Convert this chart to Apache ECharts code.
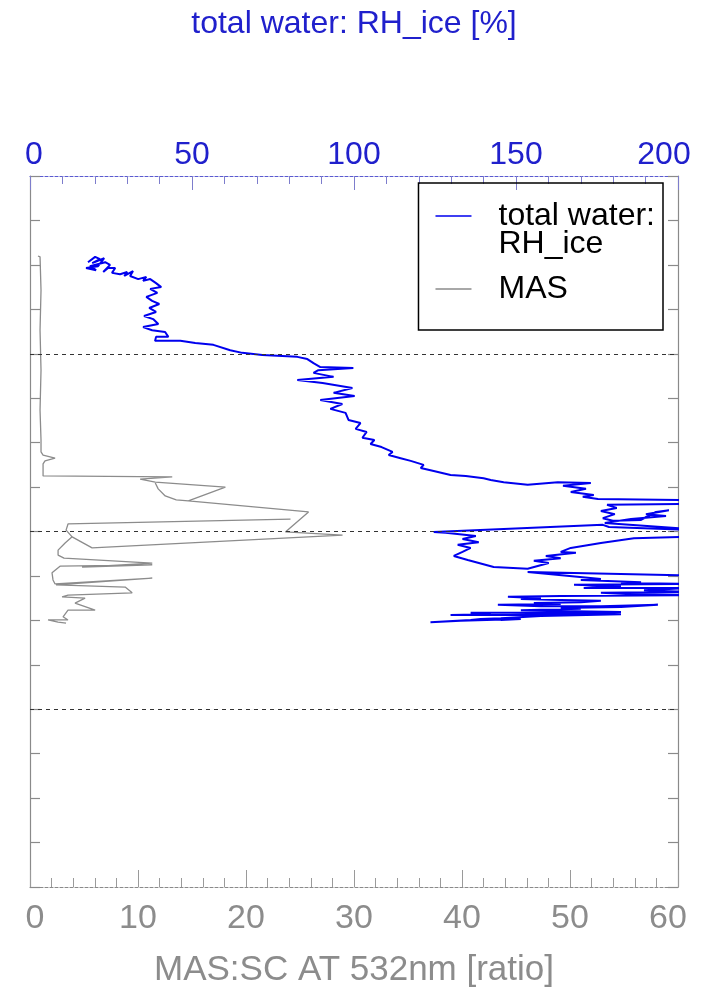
<!DOCTYPE html>
<html>
<head>
<meta charset="utf-8">
<script src="https://cdn.jsdelivr.net/npm/echarts@6/dist/echarts.min.js"></script>
<style>
  html, body { margin: 0; padding: 0; background: #fff; }
  #chart { width: 711px; height: 999px; }
</style>
</head>
<body>
<div id="chart"></div>
<script>
// Vertical profile: altitude (km) against total-water RH over ice (top axis)
// and the MAS backscatter ratio at 532 nm (bottom axis).

// Total water RH_ice [%] along the flight track, and matching altitude [km].
// Values above 200 % run off the right edge and are clipped by the grid.
const rhIce = [
  17.9, 20.1, 21.6, 19.2, 22.9, 21.0, 17.3, 20.4, 18.5, 23.2,
  24.7, 22.6, 24.1, 26.3, 25.3, 27.8, 30.0, 29.1, 31.8, 30.9,
  33.4, 35.9, 34.9, 37.1, 38.9, 40.5, 37.1, 39.3, 35.9, 37.7,
  39.9, 36.8, 38.9, 35.2, 38.0, 39.6, 34.9, 37.7, 41.7, 42.7,
  38.9, 38.6, 46.4, 51.0, 56.6, 61.8, 65.5, 71.7, 82.5, 85.6,
  87.5, 89.6, 99.8, 89.0, 87.5, 93.7, 82.5, 90.3, 99.5, 93.7,
  100.2, 89.6, 96.4, 92.7, 97.4, 98.3, 102.0, 100.5, 103.9, 102.6,
  106.3, 105.1, 108.5, 111.9, 110.7, 114.4, 117.5, 121.5, 120.6, 124.6,
  129.8, 134.5, 140.0, 142.2, 146.2, 153.6, 162.9, 173.1, 164.5, 171.6,
  166.9, 174.0, 170.6, 175.3, 210.0, 210.0, 178.1, 181.1, 176.2, 180.5,
  176.8, 179.9, 188.6, 193.2, 197.2, 190.1, 196.3, 185.5, 177.4, 210.0,
  178.7, 176.8, 124.6, 128.3, 137.6, 133.5, 138.5, 132.0, 136.0, 133.5,
  130.8, 135.1, 143.1, 153.6, 160.1, 155.5, 163.8, 159.2, 168.5, 163.8,
  166.9, 176.2, 186.4, 215.0, 215.0, 153.6, 176.2, 170.0, 188.6, 182.4,
  205.0, 167.9, 182.4, 176.2, 170.9, 205.0, 189.5, 194.7, 205.0, 176.2,
  185.5, 205.0, 163.8, 147.5, 157.7, 151.5, 163.8, 176.2, 170.0, 155.5,
  163.8, 144.4, 157.7, 176.2, 193.8, 182.4, 163.8, 170.0, 151.5, 163.8,
  182.4, 176.2, 136.0, 142.2, 129.8, 148.4, 163.8, 182.4, 157.7, 145.3,
  139.1, 136.0, 123.6, 132.9, 151.5, 145.3
];
const rhAlt = [
  14.06, 14.18, 14.13, 14.04, 14.15, 13.97, 13.93, 13.88, 13.97, 14.06,
  14.00, 13.84, 13.93, 13.93, 13.82, 13.79, 13.84, 13.75, 13.86, 13.75,
  13.68, 13.73, 13.64, 13.68, 13.59, 13.50, 13.46, 13.37, 13.28, 13.19,
  13.12, 13.03, 12.94, 12.85, 12.78, 12.67, 12.60, 12.53, 12.49, 12.38,
  12.38, 12.29, 12.29, 12.24, 12.20, 12.08, 12.02, 11.97, 11.93, 11.88,
  11.79, 11.70, 11.68, 11.63, 11.57, 11.48, 11.41, 11.34, 11.23, 11.12,
  11.05, 10.96, 10.87, 10.76, 10.67, 10.51, 10.44, 10.31, 10.24, 10.11,
  10.06, 9.97, 9.90, 9.79, 9.72, 9.65, 9.59, 9.50, 9.43, 9.36,
  9.27, 9.25, 9.20, 9.16, 9.11, 9.05, 9.11, 9.09, 9.03, 8.96,
  8.89, 8.82, 8.78, 8.73, 8.70, 8.63, 8.60, 8.53, 8.46, 8.39,
  8.30, 8.24, 8.26, 8.44, 8.48, 8.39, 8.35, 8.28, 8.19, 8.02,
  8.10, 8.15, 7.99, 7.97, 7.90, 7.83, 7.76, 7.70, 7.63, 7.54,
  7.45, 7.36, 7.20, 7.16, 7.29, 7.34, 7.40, 7.45, 7.52, 7.54,
  7.63, 7.74, 7.85, 7.90, 6.99, 7.09, 6.93, 6.91, 6.86, 6.84,
  6.82, 6.80, 6.77, 6.75, 6.73, 6.73, 6.68, 6.66, 6.64, 6.62,
  6.59, 6.57, 6.55, 6.53, 6.50, 6.48, 6.46, 6.44, 6.41, 6.39,
  6.37, 6.35, 6.32, 6.32, 6.35, 6.30, 6.28, 6.26, 6.23, 6.21,
  6.19, 6.17, 6.17, 6.14, 6.12, 6.12, 6.14, 6.14, 6.10, 6.05,
  6.03, 6.01, 5.96, 5.99, 6.03, 6.01
];

// MAS scattering ratio at 532 nm [ratio], and matching altitude [km]
const masRatio = [
  0.74, 0.93, 1.02, 0.93, 1.02, 0.93, 1.02, 1.02, 1.21, 2.32,
  1.39, 1.21, 1.21, 13.17, 10.20, 11.60, 18.09, 14.66, 13.54, 12.52,
  11.87, 11.60, 11.87, 12.52, 13.54, 14.66, 25.79, 23.65, 28.94, 5.75,
  3.90, 3.34, 3.52, 24.12, 3.52, 3.34, 3.90, 3.25, 2.60, 2.60,
  3.15, 11.32, 4.82, 11.32, 2.78, 2.04, 2.13, 2.32, 11.32, 2.41,
  8.81, 9.46, 3.52, 2.97, 5.10, 4.17, 6.03, 3.52, 3.06, 3.52,
  1.67, 2.60, 3.34
];
const masAlt = [
  14.20, 14.18, 13.43, 12.53, 11.63, 10.73, 10.06, 9.79, 9.72, 9.65,
  9.59, 9.52, 9.25, 9.23, 9.18, 9.11, 9.00, 8.69, 8.71, 8.80,
  8.96, 9.09, 8.96, 8.80, 8.71, 8.69, 8.44, 7.99, 7.92, 7.63,
  7.88, 8.03, 8.17, 8.28, 8.17, 8.03, 7.88, 7.74, 7.58, 7.47,
  7.40, 7.29, 7.20, 7.25, 7.22, 7.07, 6.91, 6.82, 6.95, 6.80,
  6.75, 6.62, 6.57, 6.53, 6.50, 6.39, 6.23, 6.23, 6.08, 6.01,
  6.01, 5.96, 5.94
];

// Axis settings
const rhTicks = [0, 50, 100, 150, 200];
const masTicks = [0, 10, 20, 30, 40, 50, 60];
const altRange = [0, 16];
const guideAltitudes = [4, 8, 12];

const rhName = 'total water: RH_ice';
const masName = 'MAS';

const blue = '#0000ee';
const grey = '#8c8c8c';
const topText = '#2020cc';
const bottomText = '#8c8c8c';
const font = 'Liberation Sans, Arial, Helvetica, sans-serif';

const rhData = rhIce.map((v, i) => [v, rhAlt[i]]);
const masData = masRatio.map((v, i) => [v, masAlt[i]]);

// End labels sit a little inside the frame
function edgeLabels(ticks, color, size, padMin, padMax) {
  const base = { color: color, fontSize: size, fontFamily: font };
  return {
    formatter: (v) => {
      if (v === ticks[0]) return '{lo|' + v + '}';
      if (v === ticks[ticks.length - 1]) return '{hi|' + v + '}';
      return '{m|' + v + '}';
    },
    rich: {
      m: base,
      lo: Object.assign({ padding: [0, 0, 0, padMin] }, base),
      hi: Object.assign({ padding: [0, padMax, 0, 0] }, base)
    }
  };
}

const chart = echarts.init(document.getElementById('chart'), null, { renderer: 'canvas' });

const altAxis = (pos) => ({
  type: 'value',
  position: pos,
  min: altRange[0],
  max: altRange[1],
  interval: 1,
  axisLine: { show: true, onZero: false, lineStyle: { color: '#8a8a8a', width: 1.2 } },
  axisTick: { show: true, inside: true, length: 10, lineStyle: { color: '#8a8a8a', width: 1.2 } },
  axisLabel: { show: false },
  splitLine: { show: false }
});

chart.setOption({
  animation: false,
  backgroundColor: '#ffffff',
  textStyle: { fontFamily: font },
  grid: { left: 30, right: 33, top: 176, bottom: 112, outerBoundsMode: 'none' },
  legend: {
    orient: 'vertical',
    right: 48,
    top: 183,
    padding: [17, 8, 13, 17],
    borderColor: '#000',
    borderWidth: 1.5,
    itemWidth: 36,
    itemHeight: 56,
    itemGap: 1,
    selectedMode: false,
    itemStyle: { borderWidth: 0 },
    textStyle: { fontSize: 32, lineHeight: 28, color: '#000', padding: [0, 0, 0, 22], fontFamily: font },
    formatter: (n) => (n === rhName ? 'total water:\nRH_ice' : n),
    data: [
      { name: rhName, icon: 'path://M0,13.3h36v1.4h-36z M0,0h0.01v0.01h-0.01z M0,56h0.01v-0.01h-0.01z' },
      { name: masName, icon: 'path://M0,27.3h36v1.4h-36z M0,0h0.01v0.01h-0.01z M0,56h0.01v-0.01h-0.01z' }
    ]
  },
  xAxis: [
    {
      type: 'value',
      position: 'bottom',
      min: masTicks[0],
      max: masTicks[masTicks.length - 1],
      interval: masTicks[1] - masTicks[0],
      name: 'MAS:SC AT 532nm [ratio]',
      nameLocation: 'middle',
      nameGap: 66,
      nameTextStyle: { color: bottomText, fontSize: 35, fontFamily: font },
      axisLine: { show: true, onZero: false, lineStyle: { color: '#8a8a8a', width: 1.2, type: [3, 2] } },
      axisTick: { show: true, inside: true, length: 17, lineStyle: { color: '#9a9a9a', width: 1 } },
      minorTick: { show: true, splitNumber: 5, length: 9, lineStyle: { color: '#9a9a9a', width: 1 } },
      axisLabel: Object.assign({ color: bottomText, fontSize: 34, margin: 15 },
        edgeLabels(masTicks, bottomText, 34, 10, 20)),
      splitLine: { show: false }
    },
    {
      type: 'value',
      position: 'top',
      min: rhTicks[0],
      max: rhTicks[rhTicks.length - 1],
      interval: rhTicks[1] - rhTicks[0],
      name: 'total water: RH_ice [%]',
      nameLocation: 'middle',
      nameGap: 136,
      nameTextStyle: { color: topText, fontSize: 32, fontFamily: font },
      axisLine: { show: true, onZero: false, lineStyle: { color: '#5a5ad0', width: 1.2, type: [3, 2] } },
      axisTick: { show: true, inside: true, length: 14, lineStyle: { color: '#7d7dcc', width: 1 } },
      minorTick: { show: true, splitNumber: 5, length: 8, lineStyle: { color: '#7d7dcc', width: 1 } },
      axisLabel: Object.assign({ color: topText, fontSize: 32, margin: 5 },
        edgeLabels(rhTicks, topText, 32, 8, 28)),
      splitLine: { show: false }
    }
  ],
  yAxis: [altAxis('left'), altAxis('right')],
  series: [
    {
      name: rhName,
      type: 'line',
      xAxisIndex: 1,
      yAxisIndex: 0,
      data: rhData,
      symbol: 'none',
      color: blue,
      itemStyle: { color: blue },
      lineStyle: { color: blue, width: 2 },
      z: 3
    },
    {
      name: masName,
      type: 'line',
      xAxisIndex: 0,
      yAxisIndex: 0,
      data: masData,
      symbol: 'none',
      color: grey,
      itemStyle: { color: grey },
      lineStyle: { color: grey, width: 1.3 },
      z: 2,
      markLine: {
        silent: true,
        symbol: ['none', 'none'],
        label: { show: false },
        lineStyle: { color: '#333', type: [4, 4], width: 1 },
        data: guideAltitudes.map((a) => ({ yAxis: a }))
      }
    }
  ]
});
</script>
</body>
</html>
